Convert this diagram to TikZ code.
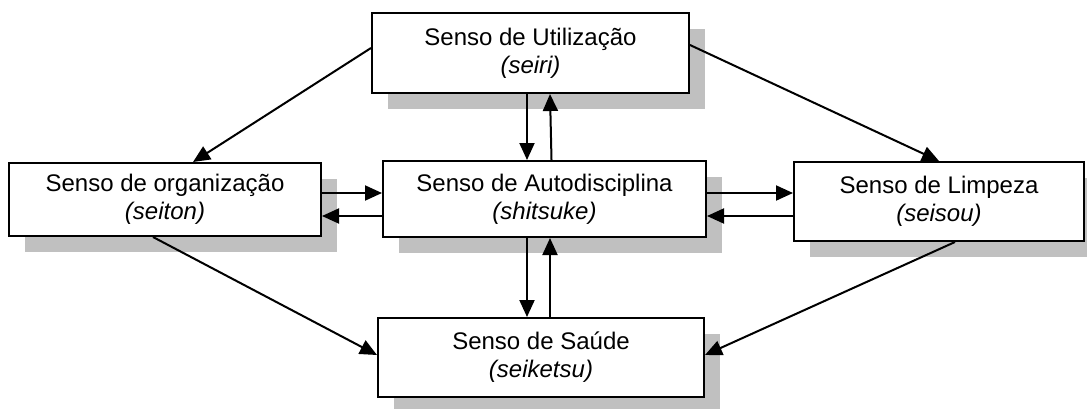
\documentclass[tikz,border=0pt]{standalone}
\usepackage{fontspec}
\setmainfont{Liberation Sans}
\usetikzlibrary{arrows.meta,shadows}
\definecolor{shadowgray}{HTML}{C0C0C0}
\begin{document}
\begin{tikzpicture}[x=1pt,y=-1pt,
  box/.style={draw=black,line width=2pt,fill=white,align=center,inner sep=0pt,
    font=\fontsize{24}{28}\selectfont,
    drop shadow={shadow xshift=16pt,shadow yshift=-16pt,fill=shadowgray,opacity=1}},
  conn/.style={line width=2pt,-{Triangle[length=17pt,width=15pt]}}]
\useasboundingbox (0,0) rectangle (1087,408);
\node[box,minimum width=317pt,minimum height=80pt] (U) at (530.5,53) {Senso de Utilização\\\textit{(seiri)}};
\node[box,minimum width=312pt,minimum height=73pt] (O) at (165,199.5) {Senso de organização\\\textit{(seiton)}};
\node[box,minimum width=323pt,minimum height=76pt] (A) at (544.5,199) {Senso de Autodisciplina\\\textit{(shitsuke)}};
\node[box,minimum width=290pt,minimum height=79pt] (L) at (939,201.5) {Senso de Limpeza\\\textit{(seisou)}};
\node[box,minimum width=326pt,minimum height=79pt] (S) at (541,357.5) {Senso de Saúde\\\textit{(seiketsu)}};
% vertical
\draw[conn] ([xshift=-3.5pt]U.south) -- ([xshift=-17.5pt]A.north);
\draw[conn] ([xshift=7pt]A.north) -- ([xshift=19.5pt]U.south);
\draw[conn] ([xshift=-17.5pt]A.south) -- ([xshift=-14pt]S.north);
\draw[conn] ([xshift=9pt]S.north) -- ([xshift=5.5pt]A.south);
% horizontal
\draw[conn] ([yshift=6.5pt]O.east) -- ([yshift=6pt]A.west);
\draw[conn] ([yshift=-17pt]A.west) -- ([yshift=-16.5pt]O.east);
\draw[conn] ([yshift=6pt]A.east) -- ([yshift=8.5pt]L.west);
\draw[conn] ([yshift=-14.5pt]L.west) -- ([yshift=-17pt]A.east);
% diagonals
\draw[conn] ([yshift=5pt]U.west) -- ([xshift=28pt]O.north);
\draw[conn] ([yshift=8pt]U.east) -- (L.north);
\draw[conn] ([xshift=-12pt]O.south) -- ([yshift=2.5pt]S.west);
\draw[conn] ([xshift=16pt]L.south) -- ([yshift=2.5pt]S.east);
\end{tikzpicture}
\end{document}
